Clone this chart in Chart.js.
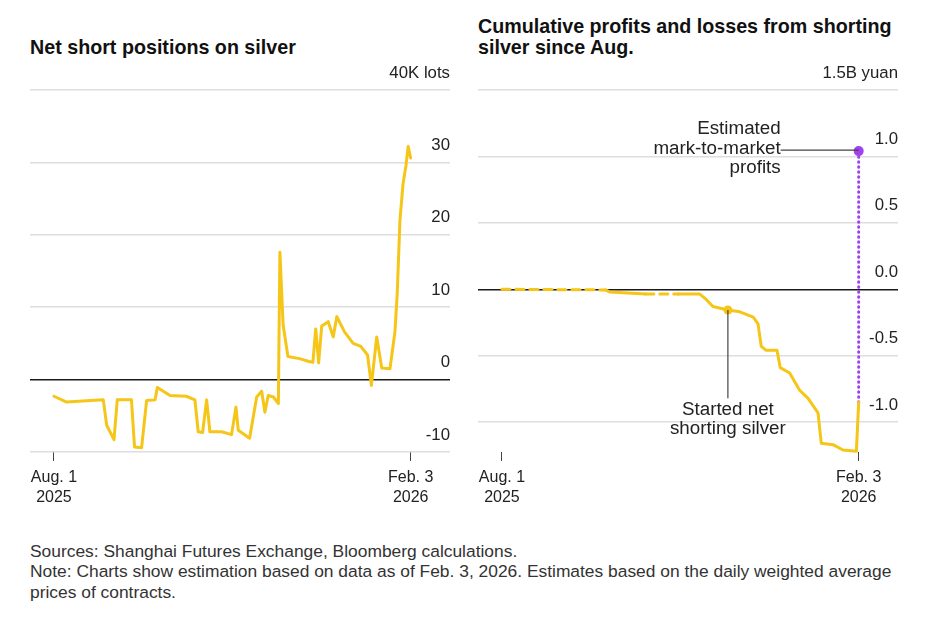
<!DOCTYPE html>
<html><head><meta charset="utf-8">
<script src="https://cdn.jsdelivr.net/npm/chart.js@4.4.1/dist/chart.umd.min.js"></script>
<style>
html,body{margin:0;padding:0;background:#fff;}
body{width:948px;height:624px;position:relative;overflow:hidden;font-family:"Liberation Sans",Arial,sans-serif;color:#222;}
.title{position:absolute;font-weight:bold;font-size:19.7px;line-height:21px;color:#111;white-space:nowrap;}
#t1{left:30px;top:37px;}
#t2{left:478px;top:16px;}
canvas{position:absolute;top:0;}
#c1{left:0;}
#c2{left:470px;}
#foot{position:absolute;left:30px;top:541px;font-size:17.4px;line-height:20.3px;color:#333;white-space:nowrap;}
</style></head>
<body>
<div class="title" id="t1">Net short positions on silver</div>
<div class="title" id="t2">Cumulative profits and losses from shorting<br>silver since Aug.</div>
<canvas id="c1" width="470" height="520"></canvas>
<canvas id="c2" width="478" height="520"></canvas>
<div id="foot">Sources: Shanghai Futures Exchange, Bloomberg calculations.<br>Note: Charts show estimation based on data as of Feb. 3, 2026. Estimates based on the daily weighted average<br>prices of contracts.</div>
<script>
// ---- data (x = days since Aug. 1, 2025) ----
const xTickDays = [0, 186];
const xTickLabels = [["Aug. 1", "2025"], ["Feb. 3", "2026"]];

const posDays = [0, 6.6, 25.7, 27.5, 31.3, 33, 40.4, 42, 45.7, 48.3, 52.7, 53.9, 60.5, 69, 73.5, 75.2, 77.5, 79.6, 81.3, 87.4, 92.6, 94.9, 96.1, 102, 105.7, 108.3, 110, 111.7, 114.4, 117, 117.8, 119.5, 122, 128, 133, 135, 136.5, 138, 139.6, 143, 145.6, 147.5, 151.5, 156, 160, 163.5, 165.5, 168.3, 170.9, 175.2, 177.8, 179, 180.4, 182, 183.5, 184.7, 186];
const posValues = [-2.3, -3.1, -2.8, -6.3, -8.3, -2.8, -2.8, -9.3, -9.4, -2.9, -2.8, -1.1, -2.2, -2.3, -2.8, -7.2, -7.3, -2.8, -7.2, -7.2, -7.6, -3.8, -7.0, -8.1, -2.4, -1.6, -4.5, -2.2, -2.4, -3.3, 17.6, 7.5, 3.2, 2.9, 2.5, 2.4, 7.0, 2.3, 7.4, 8.0, 5.9, 8.7, 6.6, 5.0, 4.6, 3.4, -0.8, 5.9, 1.6, 1.5, 6.6, 12, 22, 27, 29.5, 32.2, 30.6];
const posTicks = [-10, 0, 10, 20, 30, 40];
const posTickLabels = ["-10", "0", "10", "20", "30", "40K lots"];

const pnlDays = [0, 54, 56, 75, 92, 103, 106, 110, 117.8, 124, 131, 133.5, 135.2, 137.8, 143.4, 145.1, 150, 155.2, 159.5, 164.8, 166.5, 172.6, 177.8, 184.8, 186];
const pnlValues = [0, -0.005, -0.02, -0.035, -0.035, -0.035, -0.07, -0.13, -0.156, -0.17, -0.21, -0.26, -0.43, -0.46, -0.46, -0.59, -0.63, -0.76, -0.82, -0.93, -1.16, -1.17, -1.21, -1.22, -0.85];
const dashedRanges = [[0, 54], [75, 92]];
const pnlTicks = [-1, -0.5, 0, 0.5, 1, 1.5];
const pnlTickLabels = ["-1.0", "-0.5", "0.0", "0.5", "1.0", "1.5B yuan"];

const startDay = 117.8, startValue = -0.156, startLabelValue = -0.82;
const startLabel = ["Started net", "shorting silver"];
const mtmDay = 186, mtmFrom = -0.85, mtmProfit = 1.04;
const mtmLabel = ["Estimated", "mark-to-market", "profits"];

// ---- styles ----
const YELLOW = '#F5C518', PURPLE = '#A040F0';
const FONT = '"Liberation Sans", Arial, sans-serif';

function xScale(min, max) {
  return {
    type: 'linear', min, max,
    afterBuildTicks: a => { a.ticks = xTickDays.map(v => ({ value: v })); },
    afterFit: a => { a.height = 68; },
    grid: { drawOnChartArea: false, drawTicks: true, tickLength: 9, color: '#444', lineWidth: 1 },
    border: { display: false },
    ticks: {
      autoSkip: false, maxRotation: 0, padding: 6, color: '#222',
      font: { family: FONT, size: 16, lineHeight: 1.27 },
      callback: v => xTickLabels[xTickDays.indexOf(v)]
    }
  };
}
function yScale(min, max, ticks, labels) {
  return {
    type: 'linear', position: 'right', min, max,
    afterBuildTicks: a => { a.ticks = ticks.map(v => ({ value: v })); },
    afterFit: a => { a.width = 0; },
    grid: {
      drawTicks: false,
      color: c => (c.tick && c.tick.value === 0) ? '#1a1a1a' : '#dedede',
      lineWidth: 1.5
    },
    border: { display: false },
    ticks: {
      mirror: true, padding: 0, labelOffset: -17, color: '#222',
      font: { family: FONT, size: 16.8 },
      callback: v => labels[ticks.indexOf(v)]
    }
  };
}
const common = {
  responsive: false, animation: false, devicePixelRatio: 1,
  plugins: { legend: { display: false }, tooltip: { enabled: false } },
  elements: { point: { radius: 0 }, line: { tension: 0, borderJoinStyle: 'round', borderCapStyle: 'round' } }
};

new Chart(document.getElementById('c1'), {
  type: 'line',
  data: { datasets: [{
    data: posDays.map((d, i) => ({ x: d, y: posValues[i] })),
    borderColor: YELLOW, borderWidth: 3, clip: false
  }] },
  options: Object.assign({}, common, {
    layout: { padding: { left: 30, right: 20, top: 90, bottom: 0 } },
    scales: { x: xScale(-12.5, 206.5), y: yScale(-10, 40, posTicks, posTickLabels) }
  })
});

const annot = {
  id: 'annot',
  afterDatasetsDraw(chart) {
    const ctx = chart.ctx, xs = chart.scales.x, ys = chart.scales.y;
    ctx.save();
    ctx.font = '18.8px ' + FONT;
    ctx.fillStyle = '#222';
    ctx.strokeStyle = '#444';
    ctx.lineWidth = 1.2;
    // mark-to-market label
    const mx = xs.getPixelForValue(mtmDay), my = ys.getPixelForValue(mtmProfit);
    const tx = mx - 78;
    ctx.beginPath(); ctx.moveTo(tx, my - 1); ctx.lineTo(mx, my - 1); ctx.stroke();
    ctx.textAlign = 'right'; ctx.textBaseline = 'middle';
    ctx.fillText(mtmLabel[0], tx, my - 22);
    ctx.fillText(mtmLabel[1], tx, my - 2.5);
    ctx.fillText(mtmLabel[2], tx, my + 16.5);
    // start label
    const sx = xs.getPixelForValue(startDay), sy = ys.getPixelForValue(startValue);
    const ey = ys.getPixelForValue(startLabelValue);
    ctx.beginPath(); ctx.moveTo(sx, sy); ctx.lineTo(sx, ey); ctx.stroke();
    ctx.textAlign = 'center';
    ctx.fillText(startLabel[0], sx, ey + 11.5);
    ctx.fillText(startLabel[1], sx, ey + 30.5);
    ctx.restore();
  }
};

new Chart(document.getElementById('c2'), {
  type: 'line',
  data: { datasets: [
    {
      data: pnlDays.map((d, i) => ({ x: d, y: pnlValues[i] })),
      borderColor: YELLOW, borderWidth: 3, clip: false,
      segment: { borderDash: c => dashedRanges.some(([a, b]) => c.p0.parsed.x >= a && c.p1.parsed.x <= b) ? [8, 6] : undefined }
    },
    {
      data: [{ x: mtmDay, y: mtmFrom }, { x: mtmDay, y: mtmProfit }],
      borderColor: PURPLE, borderWidth: 3, borderDash: [0.5, 4.5], borderCapStyle: 'round', clip: false,
      pointRadius: [0, 5], pointBackgroundColor: PURPLE, pointBorderWidth: 0
    },
    {
      data: [{ x: startDay, y: startValue }],
      pointRadius: 4.5, pointBackgroundColor: YELLOW, pointBorderWidth: 0, showLine: false, clip: false
    }
  ] },
  options: Object.assign({}, common, {
    layout: { padding: { left: 8, right: 50, top: 90, bottom: 0 } },
    scales: { x: xScale(-12.5, 206.5), y: yScale(-1.225, 1.5, pnlTicks, pnlTickLabels) }
  }),
  plugins: [annot]
});
</script>
</body></html>
